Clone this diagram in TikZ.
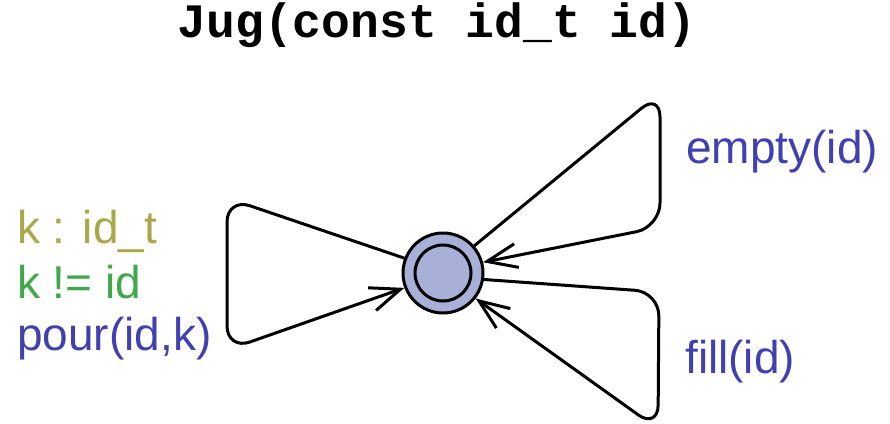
\documentclass[tikz,border=0pt]{standalone}
\usepackage{fontspec}
\setmainfont{Liberation Sans}
\setmonofont{Liberation Mono}
\usetikzlibrary{arrows.meta}
\definecolor{lblblue}{RGB}{64,64,176}
\definecolor{lblolive}{RGB}{168,168,72}
\definecolor{lblgreen}{RGB}{64,168,72}
\definecolor{statefill}{RGB}{168,176,216}
\tikzset{
  lbl/.style={inner sep=0pt, anchor=base west, font=\fontsize{46}{55}\selectfont},
  statenode/.style={circle, draw=black, line width=3pt, fill=statefill, inner sep=0pt, minimum size=80pt},
  innerring/.style={circle, draw=black, line width=3pt, inner sep=0pt, minimum size=56pt},
  loopedge/.style={draw=black, line width=3pt, rounded corners=24pt, line join=round,
    -{Straight Barb[length=30pt,width=24pt,line width=3pt]}},
}
\begin{document}
\begin{tikzpicture}[x=1pt,y=-1pt]
\useasboundingbox (0,0) rectangle (890,423);
\node[inner sep=0pt, anchor=base] (title) at (437,37)
  {\fontsize{48}{56}\selectfont\ttfamily\bfseries Jug(const id\_t id)};
\node[statenode] (s) at (443,273) {};
\node[innerring] (si) at (s.center) {};
\coordinate (l1) at (227,198);
\coordinate (l2) at (227,350);
\coordinate (u1) at (660,93);
\coordinate (u2) at (660,227);
\coordinate (d1) at (659,292);
\coordinate (d2) at (658,429);
\draw[loopedge] (s.159) -- (l1) -- (l2) -- (s.201);
\draw[loopedge] (s.41) -- (u1) -- (u2) -- (s.15);
\draw[loopedge] (s.-9) -- (d1) -- (d2) -- (s.-38);
\node[lbl, text=lblolive] (sel) at (17,243) {k : id\_t};
\node[lbl, text=lblgreen] (grd) at (17,298) {k != id};
\node[lbl, text=lblblue] (syn) at (17,350) {pour(id,k)};
\node[lbl, text=lblblue] (emp) at (686,163) {empty(id)};
\node[lbl, text=lblblue] (fil) at (685,373) {fill(id)};
\end{tikzpicture}
\end{document}
